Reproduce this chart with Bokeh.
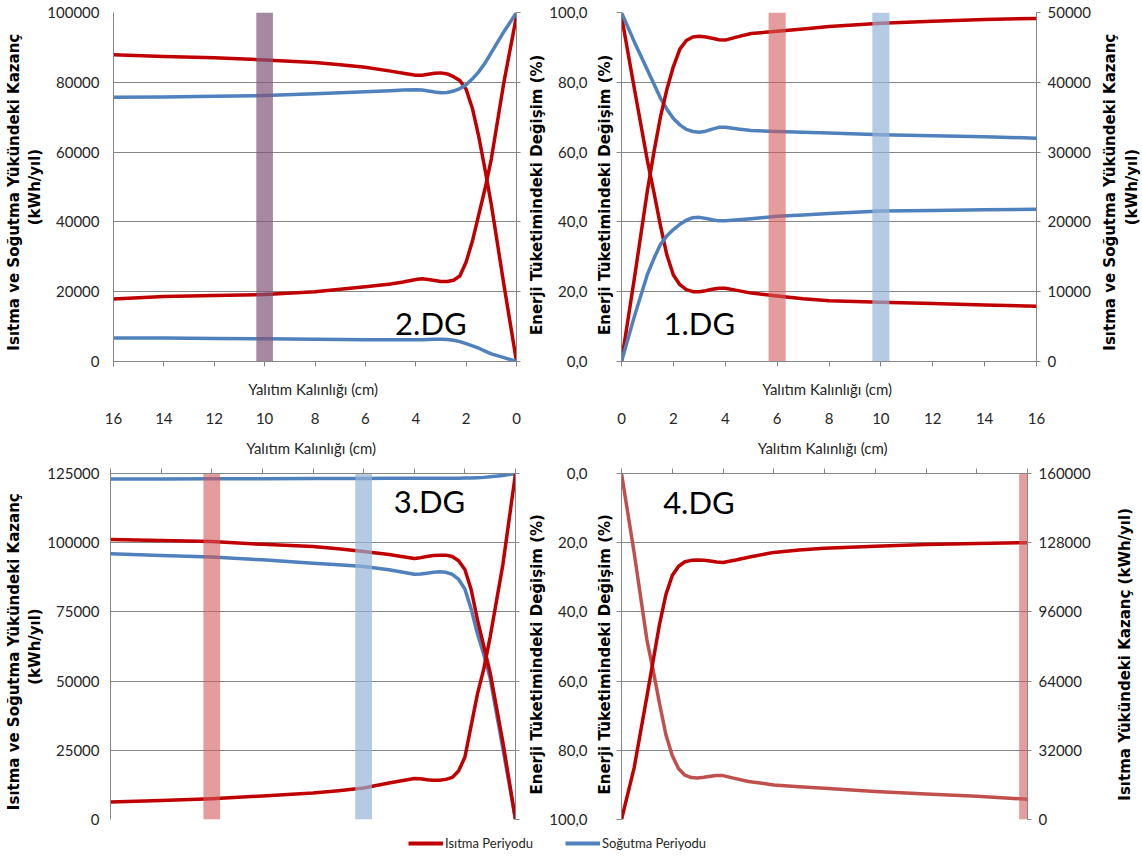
import math
from bokeh.plotting import figure
from bokeh.models import Range1d, LinearAxis, FixedTicker, Label, Legend, LegendItem
from bokeh.layouts import column, row
from bokeh.embed import file_html
from bokeh.resources import INLINE

# ---------------- data ----------------
thickness_cm = [0, 0.5, 1, 1.25, 1.5, 1.75, 2, 2.25, 2.5, 2.75, 3, 3.25, 3.5, 3.75, 4, 4.5, 5, 6, 7, 8, 10, 12, 14, 16]
thickness_ticks = [0, 2, 4, 6, 8, 10, 12, 14, 16]
pct_ticks = [0, 20, 40, 60, 80, 100]

# 2.DG (top-left, kWh/yil)
dg2_kwh_ticks = [0, 20000, 40000, 60000, 80000, 100000]
dg2_heat_a = [0, 22000, 45000, 55000, 64500, 72500, 78000, 80500, 81600, 82400, 82700, 82600, 82300, 82000, 82000, 82600, 83200, 84300, 85000, 85700, 86400, 87000, 87400, 87900]
dg2_heat_b = [99000, 80000, 58000, 49500, 42000, 34500, 28500, 24500, 23300, 22900, 22900, 23200, 23500, 23700, 23500, 22800, 22200, 21400, 20700, 20000, 19200, 18900, 18600, 17900]
dg2_cool_a = [100000, 94500, 88500, 85500, 83000, 81000, 79300, 78200, 77500, 77100, 77000, 77200, 77500, 77800, 77900, 77800, 77600, 77300, 77000, 76700, 76200, 76000, 75800, 75700]
dg2_cool_b = [0, 1100, 2200, 3000, 3800, 4500, 5100, 5700, 6100, 6300, 6400, 6400, 6300, 6200, 6200, 6200, 6200, 6200, 6300, 6400, 6500, 6600, 6700, 6700]
dg2_bar_x = [10]

# 1.DG (top-right)
dg1_kwh_ticks = [0, 10000, 20000, 30000, 40000, 50000]
dg1_heat_pct = [99, 78, 57.5, 48.5, 39, 30.5, 24.8, 22, 20.6, 20, 20, 20.3, 20.7, 21, 21, 20.3, 19.6, 18.8, 18, 17.4, 17, 16.6, 16.2, 15.8]
dg1_cool_pct = [100, 91.5, 83.5, 79.5, 75.5, 72.3, 69.6, 67.8, 66.5, 65.9, 65.7, 66, 66.6, 67.1, 67.1, 66.6, 66.2, 65.9, 65.7, 65.5, 65, 64.7, 64.4, 64]
dg1_heat_kwh = [0, 12000, 24500, 30000, 35000, 39000, 42250, 44750, 46000, 46500, 46600, 46500, 46300, 46100, 46050, 46550, 47000, 47300, 47650, 48000, 48450, 48750, 49000, 49150]
dg1_cool_kwh = [0, 6500, 12500, 14750, 16750, 18000, 18900, 19650, 20250, 20600, 20650, 20500, 20300, 20150, 20150, 20300, 20450, 20800, 21000, 21200, 21550, 21650, 21750, 21800]
dg1_heat_bar_x = [6]
dg1_cool_bar_x = [10]

# 3.DG (bottom-left)
dg3_kwh_ticks = [0, 25000, 50000, 75000, 100000, 125000]
dg3_heat_a = [0, 28000, 53000, 62500, 72000, 83000, 90300, 93500, 95000, 95500, 95500, 95400, 95000, 94600, 94300, 95000, 95700, 96800, 97800, 98600, 99400, 100400, 100800, 101200]
dg3_cool_a = [0, 25700, 51000, 59500, 67000, 76000, 83300, 86800, 88600, 89300, 89500, 89300, 89000, 88700, 88600, 89400, 90200, 91400, 92000, 92600, 93800, 94800, 95400, 96000]
dg3_heat_b = [125000, 92000, 66000, 54500, 45500, 34000, 22500, 17500, 15200, 14500, 14200, 14200, 14400, 14700, 14800, 14000, 13200, 11400, 10400, 9600, 8500, 7500, 6900, 6300]
dg3_cool_b = [125000, 124300, 123800, 123600, 123500, 123400, 123400, 123300, 123300, 123300, 123300, 123300, 123300, 123300, 123300, 123300, 123300, 123200, 123200, 123200, 123100, 123100, 123000, 123000]
dg3_heat_bar_x = [12]
dg3_cool_bar_x = [6]

# 4.DG (bottom-right)
dg4_kwh_ticks = [0, 32000, 64000, 96000, 128000, 160000]
dg4_heat_pct = [100, 85, 64.5, 54, 43.5, 35, 29.5, 26.8, 25.5, 25.1, 25, 25.1, 25.3, 25.6, 25.7, 25, 24.2, 22.8, 22.1, 21.6, 21, 20.5, 20.2, 20]
dg4_heat_kwh = [160000, 123200, 83200, 68800, 53600, 39200, 29600, 23500, 20500, 19400, 19200, 19500, 20000, 20300, 20300, 18900, 17600, 16000, 15200, 14400, 13000, 11800, 10700, 9400]
dg4_bar_x = [16]

# ---------------- style ----------------
RED = "#C00000"
LIGHT_RED = "#C0504D"
BLUE = "#4F81BD"
GRID = "#868686"
TXT = "#262626"
FONT = "Lato"
BOLD_FONT = "DejaVu Sans"
LW = 3.5
BAR_W = 0.66

T_KWH = "Isıtma ve Soğutma  Yükündeki  Kazanç\n(kWh/yıl)"
T_PCT = "Enerji  Tüketimindeki  Değişim  (%)"
T_X = "Yalıtım Kalınlığı  (cm)"
T_HEAT_KWH = "Isıtma  Yükündeki  Kazanç  (kWh/yıl)"


def kwh_over(ticks):
    return {v: str(v) for v in ticks}


def pct_over(ticks):
    return {v: f"{v:.1f}".replace(".", ",") for v in ticks}


def make_fig(width, height, xr, yr, ml, mr, mt, mb, yticks, x_loc="below"):
    p = figure(width=width, height=height, x_range=xr, y_range=yr,
               output_backend="svg", toolbar_location=None, x_axis_location=x_loc,
               min_border_left=ml, min_border_right=mr, min_border_top=mt, min_border_bottom=mb)
    p.outline_line_color = None
    p.background_fill_color = "white"
    p.border_fill_color = "white"
    p.xgrid.visible = False
    p.ygrid.ticker = FixedTicker(ticks=yticks)
    p.ygrid.grid_line_color = GRID
    p.ygrid.grid_line_width = 1
    return p


def label_axis(ax, ticks, overrides=None, tick_out=0, line=True, standoff=5):
    """Axis that shows tick labels."""
    ax.ticker = FixedTicker(ticks=ticks)
    ax.minor_tick_line_color = None
    ax.major_tick_in = 0
    ax.major_tick_out = tick_out
    ax.major_tick_line_color = GRID if tick_out > 0 else None
    ax.axis_line_color = GRID if line else None
    ax.major_label_text_font = FONT
    ax.major_label_text_color = TXT
    ax.major_label_text_font_size = "15px"
    ax.major_label_standoff = standoff
    if overrides:
        ax.major_label_overrides = overrides


def tick_axis(ax, ticks, tick_out=5):
    """Axis with tick marks only (no tick labels)."""
    ax.ticker = FixedTicker(ticks=[], minor_ticks=ticks)
    ax.major_tick_line_color = None
    ax.minor_tick_in = 0
    ax.minor_tick_out = tick_out
    ax.minor_tick_line_color = GRID
    ax.axis_line_color = GRID
    ax.major_label_standoff = 0


def set_title(ax, text, standoff, bold=True):
    ax.axis_label = text
    ax.axis_label_standoff = standoff
    ax.axis_label_text_font = BOLD_FONT if bold else FONT
    ax.axis_label_text_font_style = "bold" if bold else "normal"
    ax.axis_label_text_font_size = "15px"
    ax.axis_label_text_color = "black" if bold else TXT


def tag(p, x, y, text):
    p.add_layout(Label(x=x, y=y, text=text, text_font=FONT, text_font_size="31px",
                       text_color="black", text_align="center", text_baseline="middle"))


def title_strip(width, height, yr, mt, mb, text, standoff):
    """Narrow strip whose left axis carries a right-hand axis title (reads bottom to top)."""
    t = figure(width=width, height=height, x_range=Range1d(0, 1), y_range=yr,
               output_backend="svg", toolbar_location=None, x_axis_location=None,
               min_border_left=width - 1, min_border_right=0, min_border_top=mt, min_border_bottom=mb)
    t.outline_line_color = None
    t.xgrid.visible = False
    t.ygrid.visible = False
    ax = t.yaxis[0]
    ax.ticker = FixedTicker(ticks=[])
    ax.axis_line_color = None
    ax.major_tick_line_color = None
    ax.minor_tick_line_color = None
    ax.major_label_standoff = 0
    set_title(ax, text, standoff)
    return t


TOP_H, BOT_H = 430, 403
LEFT_W, RIGHT_W, STRIP_W = 525, 568, 48

# ---------------- 2.DG (top-left) ----------------
p1 = make_fig(LEFT_W, TOP_H, Range1d(16, 0), Range1d(0, dg2_kwh_ticks[-1]), 113, 9, 12, 69, dg2_kwh_ticks)
ax = p1.yaxis[0]
label_axis(ax, dg2_kwh_ticks, overrides=kwh_over(dg2_kwh_ticks), standoff=14)
set_title(ax, T_KWH, 0)
ax = p1.xaxis[0]
tick_axis(ax, thickness_ticks)
set_title(ax, T_X, 13, bold=False)
axb = LinearAxis()
label_axis(axb, thickness_ticks, line=False, standoff=12)
p1.add_layout(axb, "below")
p1.extra_y_ranges = {"pct": Range1d(0, 100)}
axr = LinearAxis(y_range_name="pct")
tick_axis(axr, pct_ticks, tick_out=4)
p1.add_layout(axr, "right")
for vals, col in [(dg2_heat_a, RED), (dg2_heat_b, RED), (dg2_cool_a, BLUE), (dg2_cool_b, BLUE)]:
    p1.line(thickness_cm, vals, line_color=col, line_width=LW, line_join="round")
p1.vbar(x=dg2_bar_x, width=BAR_W, bottom=0, top=dg2_kwh_ticks[-1],
        fill_color="#80557A", fill_alpha=0.7, line_color=None)
tag(p1, 3.4, 10900, "2.DG")

# ---------------- 1.DG (top-right) ----------------
p2 = make_fig(RIGHT_W, TOP_H, Range1d(0, 16), Range1d(0, 100), 95, 57, 12, 69, pct_ticks)
ax = p2.yaxis[0]
tick_axis(ax, pct_ticks)
set_title(ax, T_PCT, 3)
axl = LinearAxis()
label_axis(axl, pct_ticks, line=False, overrides=pct_over(pct_ticks), standoff=5)
set_title(axl, T_PCT, 0)
p2.add_layout(axl, "left")
ax = p2.xaxis[0]
tick_axis(ax, thickness_ticks)
set_title(ax, T_X, 13, bold=False)
axb = LinearAxis()
label_axis(axb, thickness_ticks, line=False, standoff=12)
p2.add_layout(axb, "below")
p2.extra_y_ranges = {"kwh": Range1d(0, dg1_kwh_ticks[-1])}
axr = LinearAxis(y_range_name="kwh")
label_axis(axr, dg1_kwh_ticks, overrides=kwh_over(dg1_kwh_ticks), tick_out=4, standoff=7)
p2.add_layout(axr, "right")
p2.line(thickness_cm, dg1_heat_pct, line_color=RED, line_width=LW, line_join="round")
p2.line(thickness_cm, dg1_cool_pct, line_color=BLUE, line_width=LW, line_join="round")
p2.line(thickness_cm, dg1_heat_kwh, line_color=RED, line_width=LW, line_join="round", y_range_name="kwh")
p2.line(thickness_cm, dg1_cool_kwh, line_color=BLUE, line_width=LW, line_join="round", y_range_name="kwh")
p2.vbar(x=dg1_heat_bar_x, width=BAR_W, bottom=0, top=100, fill_color="#D25A5A", fill_alpha=0.6, line_color=None)
p2.vbar(x=dg1_cool_bar_x, width=BAR_W, bottom=0, top=100, fill_color="#95B3D7", fill_alpha=0.7, line_color=None)
tag(p2, 3.0, 10.9, "1.DG")
t2 = title_strip(STRIP_W, TOP_H, Range1d(0, 100), 12, 69, T_KWH, 0)

# ---------------- 3.DG (bottom-left) ----------------
p3 = make_fig(LEFT_W, BOT_H, Range1d(16, 0), Range1d(0, dg3_kwh_ticks[-1]), 110, 10, 43, 14, dg3_kwh_ticks, x_loc="above")
ax = p3.yaxis[0]
label_axis(ax, dg3_kwh_ticks, overrides=kwh_over(dg3_kwh_ticks), standoff=11)
set_title(ax, T_KWH, 0)
ax = p3.xaxis[0]
tick_axis(ax, thickness_ticks)
set_title(ax, T_X, 12, bold=False)
p3.extra_y_ranges = {"pct": Range1d(100, 0)}
axr = LinearAxis(y_range_name="pct")
tick_axis(axr, pct_ticks, tick_out=4)
p3.add_layout(axr, "right")
for vals, col in [(dg3_cool_b, BLUE), (dg3_cool_a, BLUE), (dg3_heat_a, RED), (dg3_heat_b, RED)]:
    p3.line(thickness_cm, vals, line_color=col, line_width=LW, line_join="round")
p3.vbar(x=dg3_heat_bar_x, width=BAR_W, bottom=0, top=dg3_kwh_ticks[-1], fill_color="#D25A5A", fill_alpha=0.6, line_color=None)
p3.vbar(x=dg3_cool_bar_x, width=BAR_W, bottom=0, top=dg3_kwh_ticks[-1], fill_color="#95B3D7", fill_alpha=0.7, line_color=None)
tag(p3, 3.4, 115000, "3.DG")

# ---------------- 4.DG (bottom-right) ----------------
p4 = make_fig(RIGHT_W, BOT_H, Range1d(0, 16), Range1d(100, 0), 95, 57, 43, 14, pct_ticks, x_loc="above")
ax = p4.yaxis[0]
tick_axis(ax, pct_ticks)
set_title(ax, T_PCT, 3)
axl = LinearAxis()
label_axis(axl, pct_ticks, line=False, overrides=pct_over(pct_ticks), standoff=5)
set_title(axl, T_PCT, 0)
p4.add_layout(axl, "left")
ax = p4.xaxis[0]
tick_axis(ax, thickness_ticks)
set_title(ax, T_X, 12, bold=False)
p4.extra_y_ranges = {"kwh": Range1d(0, dg4_kwh_ticks[-1])}
axr = LinearAxis(y_range_name="kwh")
label_axis(axr, dg4_kwh_ticks, overrides=kwh_over(dg4_kwh_ticks), tick_out=4, standoff=7)
p4.add_layout(axr, "right")
p4.line(thickness_cm, dg4_heat_kwh, line_color=LIGHT_RED, line_width=LW, line_join="round", y_range_name="kwh")
p4.line(thickness_cm, dg4_heat_pct, line_color=RED, line_width=LW, line_join="round")
p4.vbar(x=dg4_bar_x, width=BAR_W, bottom=0, top=dg4_kwh_ticks[-1], fill_color="#D25A5A", fill_alpha=0.6,
        line_color=None, y_range_name="kwh")
tag(p4, 3.05, 8.1, "4.DG")
t4 = title_strip(STRIP_W, BOT_H, Range1d(100, 0), 43, 14, T_HEAT_KWH, 7)

# ---------------- legend strip ----------------
pl = figure(width=LEFT_W + RIGHT_W + STRIP_W, height=18, x_range=Range1d(-20, -19), y_range=Range1d(-20, -19),
            output_backend="svg", toolbar_location=None, min_border=0,
            x_axis_location=None, y_axis_location=None)
pl.outline_line_color = None
pl.xgrid.visible = False
pl.ygrid.visible = False
r_heat = pl.line(thickness_cm, dg3_heat_a, line_color=RED, line_width=4)
r_cool = pl.line(thickness_cm, dg3_cool_a, line_color=BLUE, line_width=4)
legend = Legend(items=[LegendItem(label="Isıtma Periyodu", renderers=[r_heat]),
                       LegendItem(label="Soğutma Periyodu", renderers=[r_cool])],
                orientation="horizontal", location=(408, 0), glyph_width=35, glyph_height=16,
                label_height=16, label_standoff=2, spacing=32, padding=0, margin=0,
                border_line_color=None, background_fill_alpha=0,
                label_text_font=FONT, label_text_font_size="13px", label_text_color=TXT)
pl.add_layout(legend, "center")

layout = column(row(p1, p2, t2), row(p3, p4, t4), pl)
open("out.html", "w").write(file_html(layout, INLINE))
